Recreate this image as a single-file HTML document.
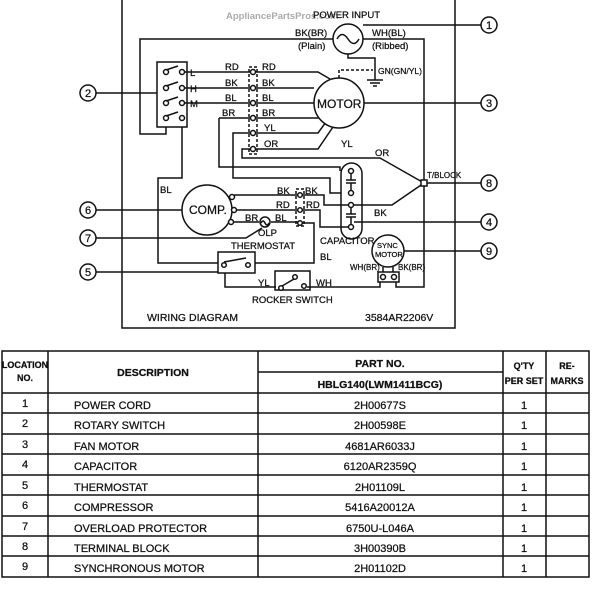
<!DOCTYPE html>
<html><head><meta charset="utf-8"><style>
html,body{margin:0;padding:0;background:#fff;}
svg{display:block;font-family:"Liberation Sans",Arial,sans-serif;}
text{fill:#111;stroke:#111;stroke-width:0.25;}
</style></head><body>
<svg width="600" height="598" viewBox="0 0 600 598" xmlns="http://www.w3.org/2000/svg">
<g stroke="#111" stroke-width="1.5" fill="none">
<path d="M122 0 V328 H455 V0"/>
<circle cx="348" cy="39" r="15" fill="#fff"/>
<path d="M337 39 q5 -9 11 0 q6 9 11 0"/>
<path d="M333 39 H140 V134 H166 V127"/>
<path d="M363 39 H424 V287 H396 V282"/>
<path d="M363 25 H481"/>
<path d="M348 54 V58 H375 V80"/>
<path d="M367 80 H383 M370 83 H380 M373 86 H377"/>
<path d="M339 78 V70 H373" stroke-dasharray="3,2"/>
<rect x="157" y="62" width="30" height="65"/>
<path d="M96 93 H157"/>
<path d="M182 127 V178 H158 V263 H218"/>
<g fill="#fff">
<circle cx="166" cy="72" r="2.5"/><circle cx="182" cy="72" r="2.5"/>
<circle cx="166" cy="88" r="2.5"/><circle cx="182" cy="88" r="2.5"/>
<circle cx="166" cy="103" r="2.5"/><circle cx="182" cy="103" r="2.5"/>
<circle cx="166" cy="118" r="2.5"/><circle cx="182" cy="118" r="2.5"/>
</g>
<path d="M166 70 L178 66 M166 86 L178 82 M166 101 L178 97 M166 116 L178 112"/>
<path d="M184 72 H252 M184 88 H252 M184 103 H252 M219 118 H252"/>
<path d="M219 118 V167 H340 V171"/>
<rect x="249" y="67" width="8" height="87" stroke-dasharray="3,2"/>
<g fill="#fff">
<circle cx="253" cy="72" r="2.5"/><circle cx="253" cy="88" r="2.5"/><circle cx="253" cy="103" r="2.5"/>
<circle cx="253" cy="118" r="2.5"/><circle cx="253" cy="133" r="2.5"/><circle cx="253" cy="149" r="2.5"/>
</g>
<path d="M256 72 H318 L330 79 M256 88 H314 M256 103 H314 M256 118 H318 L322 116 M256 133 H318 L326 122 M256 149 H318 L333 127"/>
<path d="M250 133 H233 V178 H330 V193 H341"/>
<path d="M250 149 H242 V158 H380 L424 183"/>
<circle cx="339" cy="103" r="25" fill="#fff"/>
<path d="M364 103 H481"/>
<rect x="341" y="163" width="21" height="76" rx="10.5"/>
<g fill="#fff"><circle cx="351" cy="171" r="2.5"/><circle cx="351" cy="193" r="2.5"/><circle cx="351" cy="205" r="2.5"/><circle cx="351" cy="227" r="2.5"/></g>
<path d="M351 174 V180 M346 180 H356 M346 183 H356 M351 183 V190 M351 208 V214 M346 214 H356 M346 217 H356 M351 217 V224"/>
<path d="M354 205 H392 L424 183 M424 183 H481"/>
<path d="M354 222 H481"/>
<rect x="421" y="180" width="6" height="6" fill="#fff"/>
<circle cx="207" cy="210" r="25" fill="#fff"/>
<path d="M96 210 H182 M96 238 H246 L262 228 M96 272 H218"/>
<g fill="#fff"><circle cx="232" cy="197" r="2.5"/><circle cx="234" cy="210" r="2.5"/><circle cx="231" cy="222" r="2.5"/></g>
<path d="M234 195 H298 M236 210 H298 M233 222 H259 M271 222 H298"/>
<rect x="296" y="189" width="8" height="37" stroke-dasharray="3,2"/>
<g fill="#fff"><circle cx="300" cy="195" r="2.3"/><circle cx="300" cy="210" r="2.3"/><circle cx="300" cy="223" r="2.3"/></g>
<path d="M302 195 H324 V205 H348 M302 210 H320 V227 H348 M302 223 H314 V263 H255"/>
<circle cx="265" cy="222" r="5" fill="#fff"/>
<path d="M261 223 q2 -4 4 0 q2 4 4 0"/>
<rect x="218" y="252" width="37" height="21"/>
<circle cx="224" cy="265" r="2.3" fill="#fff"/><circle cx="248" cy="265" r="2.3" fill="#fff"/>
<path d="M224 262 L246 258"/>
<path d="M225 273 V287 H276"/>
<rect x="275" y="271" width="35" height="19"/>
<circle cx="281" cy="288" r="2.3" fill="#fff"/><circle cx="295" cy="277" r="2.3" fill="#fff"/><circle cx="304" cy="286" r="2.3" fill="#fff"/>
<path d="M282 286 L294 279"/>
<path d="M307 287 H380 V282"/>
<circle cx="388" cy="251" r="16" fill="#fff"/>
<path d="M404 251 H481"/>
<path d="M383 267 V272 M393 267 V272"/>
<rect x="378" y="272" width="21" height="10"/>
<circle cx="383" cy="277" r="2.5" fill="#fff"/><circle cx="394" cy="277" r="2.5" fill="#fff"/>
<circle cx="489" cy="25" r="8"/><circle cx="88" cy="93" r="8"/><circle cx="489" cy="103" r="8"/>
<circle cx="489" cy="222" r="8"/><circle cx="88" cy="272" r="8"/><circle cx="88" cy="210" r="8"/>
<circle cx="88" cy="238" r="8"/><circle cx="489" cy="183" r="8"/><circle cx="489" cy="251" r="8"/>
</g>
<g font-size="11" text-anchor="middle">
<text x="489" y="29">1</text><text x="88" y="97">2</text><text x="489" y="107">3</text>
<text x="489" y="226">4</text><text x="88" y="276">5</text><text x="88" y="214">6</text>
<text x="88" y="242">7</text><text x="489" y="187">8</text><text x="489" y="255">9</text>
</g>
<g font-size="9.5">
<text x="226" y="19" style="fill:#aaa;stroke:none" font-weight="bold">AppliancePartsPros.com</text>
<text x="313" y="18">POWER INPUT</text>
<text x="295" y="36">BK(BR)</text><text x="298" y="49">(Plain)</text>
<text x="372" y="36">WH(BL)</text><text x="372" y="49">(Ribbed)</text>
<text x="378" y="74" font-size="8.5">GN(GN/YL)</text>
<text x="190" y="76">L</text><text x="190" y="92">H</text><text x="190" y="107">M</text>
<text x="225" y="70">RD</text><text x="225" y="86">BK</text><text x="225" y="101">BL</text><text x="222" y="116">BR</text>
<text x="262" y="70">RD</text><text x="262" y="86">BK</text><text x="262" y="101">BL</text><text x="262" y="116">BR</text>
<text x="264" y="131">YL</text><text x="264" y="147">OR</text>
<text x="317" y="108" font-size="12">MOTOR</text>
<text x="341" y="147">YL</text><text x="375" y="156">OR</text>
<text x="427" y="178" font-size="8">T/BLOCK</text>
<text x="374" y="216">BK</text>
<text x="160" y="193">BL</text>
<text x="189" y="214" font-size="12">COMP.</text>
<text x="277" y="194">BK</text><text x="305" y="194">BK</text>
<text x="276" y="208">RD</text><text x="306" y="208">RD</text>
<text x="245" y="221">BR</text><text x="275" y="221">BL</text>
<text x="258" y="236">OLP</text>
<text x="231" y="249">THERMOSTAT</text>
<text x="320" y="260">BL</text>
<text x="320" y="244">CAPACITOR</text>
<text x="377" y="248" font-size="7.5">SYNC</text><text x="375" y="257" font-size="7.5">MOTOR</text>
<text x="350" y="270" font-size="8">WH(BR)</text><text x="398" y="270" font-size="8">BK(BR)</text>
<text x="258" y="286">YL</text><text x="316" y="286">WH</text>
<text x="252" y="303">ROCKER SWITCH</text>
<text x="147" y="321" font-size="10.5">WIRING DIAGRAM</text>
<text x="365" y="321" font-size="10.5">3584AR2206V</text>
</g>
<g stroke="#111" stroke-width="1.5" fill="none">
<rect x="2" y="351" width="587" height="226"/>
<path d="M48 351 V577 M258 351 V577 M503 351 V577 M546 351 V577"/>
<path d="M258 372 H503"/>
<path d="M2 393 H589 M2 413 H589 M2 434 H589 M2 454 H589 M2 475 H589 M2 495 H589 M2 516 H589 M2 536 H589 M2 556 H589"/>
</g>
<g font-size="10.5" text-anchor="middle" font-weight="bold">
<text x="25" y="368" font-size="9">LOCATION</text><text x="25" y="381" font-size="9">NO.</text>
<text x="153" y="376">DESCRIPTION</text>
<text x="380" y="367">PART NO.</text>
<text x="380" y="388">HBLG140(LWM1411BCG)</text>
<text x="524" y="369" font-size="9">Q'TY</text><text x="524" y="384" font-size="9">PER SET</text>
<text x="567" y="369" font-size="9">RE-</text><text x="567" y="384" font-size="9">MARKS</text>
</g>
<g font-size="11">
<g text-anchor="middle">
<text x="25" y="407">1</text><text x="25" y="427">2</text><text x="25" y="448">3</text><text x="25" y="468">4</text><text x="25" y="489">5</text><text x="25" y="509">6</text><text x="25" y="530">7</text><text x="25" y="550">8</text><text x="25" y="570">9</text>
<text x="380" y="409">2H00677S</text><text x="380" y="429">2H00598E</text><text x="380" y="450">4681AR6033J</text><text x="380" y="470">6120AR2359Q</text><text x="380" y="491">2H01109L</text><text x="380" y="511">5416A20012A</text><text x="380" y="532">6750U-L046A</text><text x="380" y="552">3H00390B</text><text x="380" y="572">2H01102D</text>
<text x="524" y="409">1</text><text x="524" y="429">1</text><text x="524" y="450">1</text><text x="524" y="470">1</text><text x="524" y="491">1</text><text x="524" y="511">1</text><text x="524" y="532">1</text><text x="524" y="552">1</text><text x="524" y="572">1</text>
</g>
<text x="74" y="409">POWER CORD</text><text x="74" y="429">ROTARY SWITCH</text><text x="74" y="450">FAN MOTOR</text><text x="74" y="470">CAPACITOR</text><text x="74" y="491">THERMOSTAT</text><text x="74" y="511">COMPRESSOR</text><text x="74" y="532">OVERLOAD PROTECTOR</text><text x="74" y="552">TERMINAL BLOCK</text><text x="74" y="572">SYNCHRONOUS MOTOR</text>
</g>
</svg>
</body></html>
